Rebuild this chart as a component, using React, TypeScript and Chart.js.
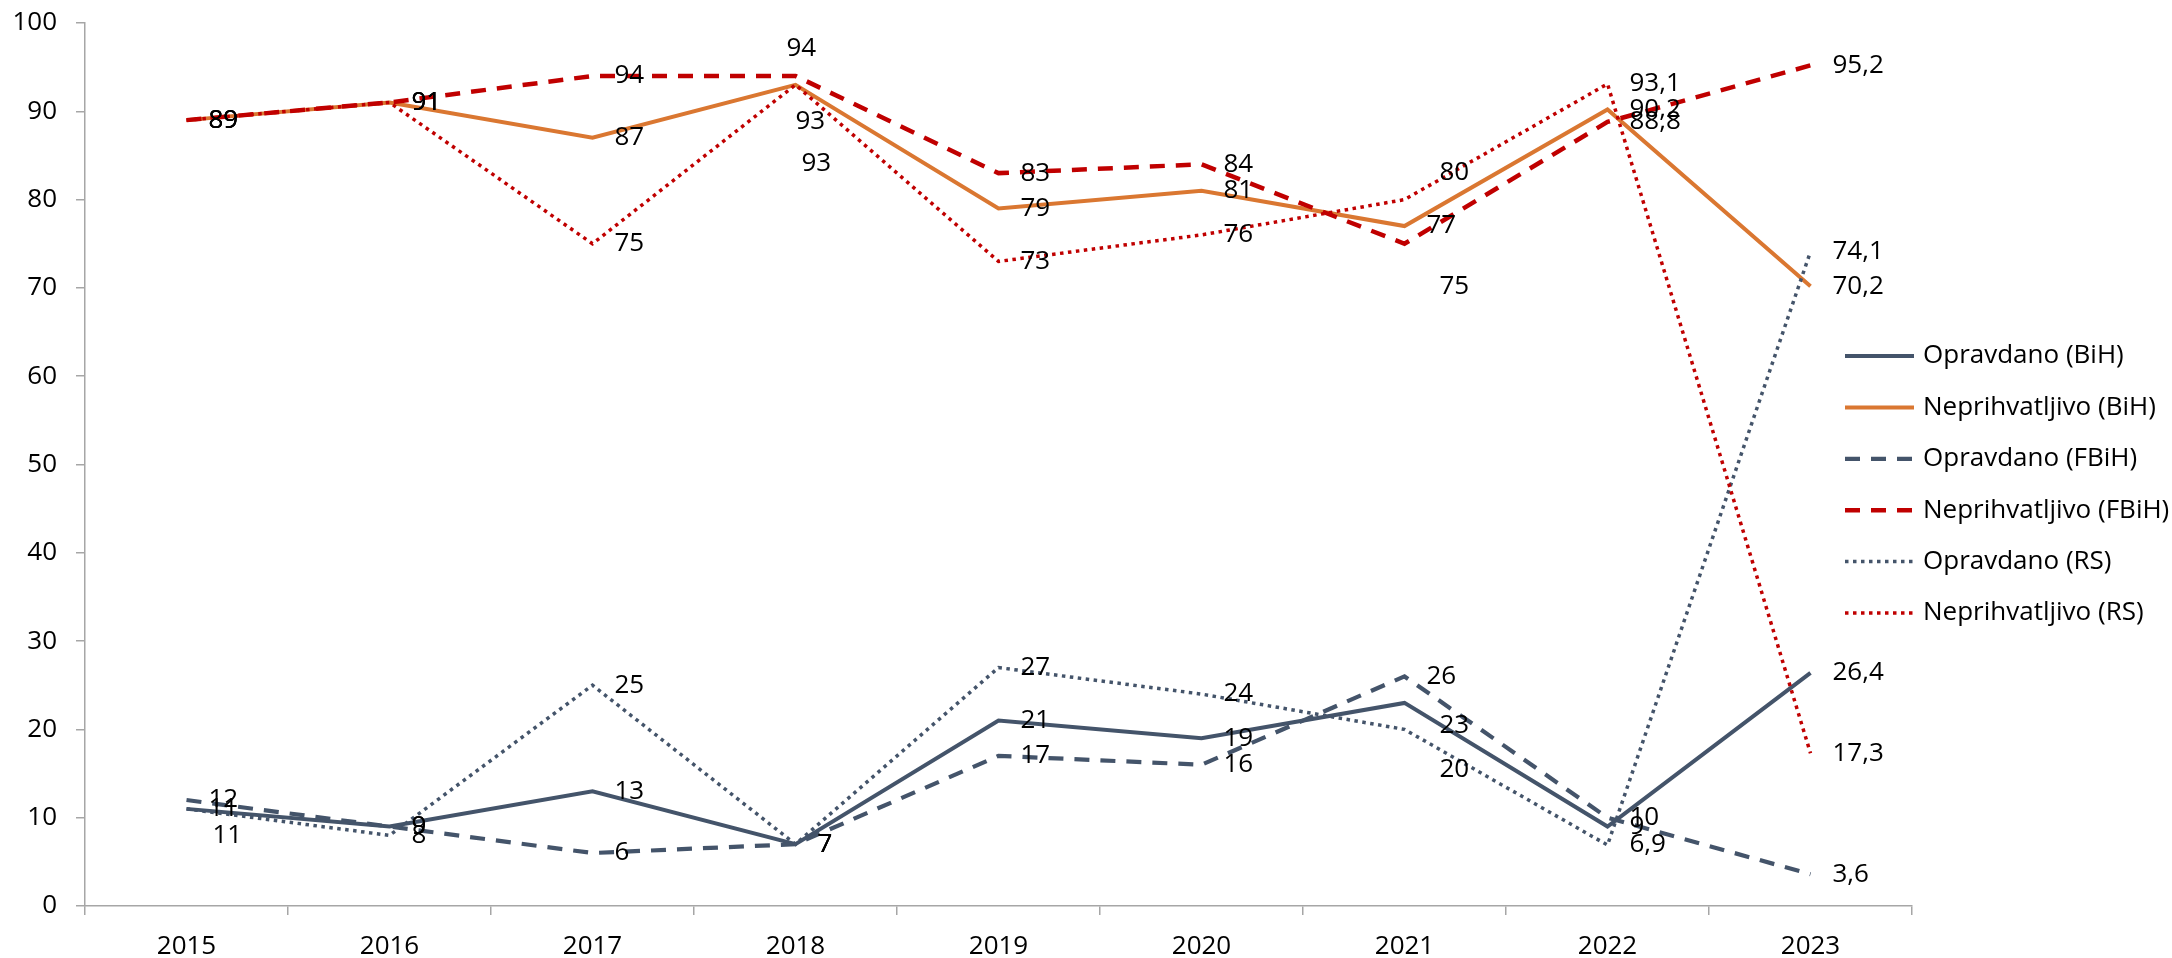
import React, { useEffect, useRef } from 'react';
import { Chart, registerables } from 'chart.js';

Chart.register(...registerables);

const years = ['2015', '2016', '2017', '2018', '2019', '2020', '2021', '2022', '2023'];
const opravdanoBiH = [11, 9, 13, 7, 21, 19, 23, 9, 26.4];
const neprihvatljivoBiH = [89, 91, 87, 93, 79, 81, 77, 90.2, 70.2];
const opravdanoFBiH = [12, 9, 6, 7, 17, 16, 26, 10, 3.6];
const neprihvatljivoFBiH = [89, 91, 94, 94, 83, 84, 75, 88.8, 95.2];
const opravdanoRS = [11, 8, 25, 7, 27, 24, 20, 6.9, 74.1];
const neprihvatljivoRS = [89, 91, 75, 93, 73, 76, 80, 93.1, 17.3];
const seriesNames = [
  'Opravdano (BiH)',
  'Neprihvatljivo (BiH)',
  'Opravdano (FBiH)',
  'Neprihvatljivo (FBiH)',
  'Opravdano (RS)',
  'Neprihvatljivo (RS)',
];
const yMin = 0;
const yMax = 100;
const yStep = 10;

const FONT = '"Open Sans", "Liberation Sans", sans-serif';
const FONT_SIZE = 26;
const GRAY = '#44546A';
const ORANGE = '#DA7731';
const RED = '#C00000';
const AXIS = '#A6A6A6';

const DASH = [15, 11];
const DOT = [3.5, 4.5];

// manual label nudges (datasetIndex:pointIndex), as in the reference
const labelNudges: Record<string, { dx: number; dy: number }> = {
  '4:0': { dx: 26, dy: 27 },
  '3:3': { dx: -9, dy: -27 },
  '1:3': { dx: 0, dy: 37 },
  '5:3': { dx: 6, dy: 79 },
  '5:6': { dx: 35, dy: -27 },
  '3:6': { dx: 35, dy: 43 },
  '0:6': { dx: 35, dy: 23 },
  '4:6': { dx: 35, dy: 40 },
};

const fmt = (v: number) => String(v).replace('.', ',');

const dataLabelPlugin = {
  id: 'dataLabelsCustom',
  afterDatasetsDraw(chart: any) {
    const ctx = chart.ctx;
    ctx.save();
    ctx.font = `${FONT_SIZE}px ${FONT}`;
    ctx.fillStyle = '#000';
    ctx.textBaseline = 'middle';
    ctx.textAlign = 'left';
    chart.data.datasets.forEach((ds: any, di: number) => {
      const meta = chart.getDatasetMeta(di);
      meta.data.forEach((pt: any, i: number) => {
        const n = labelNudges[`${di}:${i}`];
        const dx = n ? n.dx : 22;
        const dy = n ? n.dy : 0;
        ctx.fillText(fmt(ds.data[i]), pt.x + dx, pt.y + dy);
      });
    });
    ctx.restore();
  },
};

const legendPlugin = {
  id: 'legendCustom',
  afterDraw(chart: any) {
    const ctx = chart.ctx;
    const area = chart.chartArea;
    const x0 = area.right - 67;
    const lineLen = 69;
    const textX = x0 + 78;
    const rowH = 51.4;
    const startY = area.top + 333;
    ctx.save();
    ctx.font = `${FONT_SIZE}px ${FONT}`;
    ctx.textBaseline = 'middle';
    ctx.textAlign = 'left';
    chart.data.datasets.forEach((ds: any, i: number) => {
      const y = startY + i * rowH;
      ctx.beginPath();
      ctx.strokeStyle = ds.borderColor;
      ctx.lineWidth = ds.borderWidth;
      ctx.setLineDash(ds.borderDash || []);
      ctx.lineCap = 'butt';
      ctx.moveTo(x0, y);
      ctx.lineTo(x0 + lineLen, y);
      ctx.stroke();
      ctx.setLineDash([]);
      ctx.fillStyle = '#000';
      ctx.fillText(ds.label, textX, y);
    });
    ctx.restore();
  },
};

export default function App() {
  const ref = useRef<HTMLCanvasElement | null>(null);

  useEffect(() => {
    document.body.style.margin = '0';
    if (!ref.current) return;
    const values = [opravdanoBiH, neprihvatljivoBiH, opravdanoFBiH, neprihvatljivoFBiH, opravdanoRS, neprihvatljivoRS];
    const colors = [GRAY, ORANGE, GRAY, RED, GRAY, RED];
    const dashes = [[], [], DASH, DASH, DOT, DOT];
    const widths = [4, 4, 4.2, 4.5, 3.5, 3.5];
    const datasets = values.map((d, i) => ({
      label: seriesNames[i],
      data: d,
      borderColor: colors[i],
      backgroundColor: colors[i],
      borderWidth: widths[i],
      borderDash: dashes[i],
      pointRadius: 0,
      pointHoverRadius: 0,
      tension: 0,
      fill: false,
      order: 5 - i,
    }));
    const chart = new Chart(ref.current, {
      type: 'line',
      data: { labels: years, datasets },
      options: {
        animation: false,
        responsive: false,
        devicePixelRatio: 1,
        layout: { padding: { left: 0, right: 260, top: 23, bottom: 0 } },
        plugins: {
          legend: { display: false },
          tooltip: { enabled: false },
        },
        scales: {
          x: {
            offset: true,
            grid: {
              offset: true,
              drawOnChartArea: false,
              drawTicks: true,
              tickLength: 9,
              color: AXIS,
              lineWidth: 1.5,
            },
            border: { color: AXIS, width: 1.5 },
            ticks: {
              color: '#000',
              font: { family: FONT, size: FONT_SIZE },
              padding: 16,
              maxRotation: 0,
            },
            afterFit: (scale: any) => {
              scale.height = 52;
              scale.paddingLeft = 0;
              scale.paddingRight = 0;
            },
          },
          y: {
            min: yMin,
            max: yMax,
            grid: {
              drawOnChartArea: false,
              drawTicks: true,
              tickLength: 9,
              color: AXIS,
              lineWidth: 1.5,
            },
            border: { color: AXIS, width: 1.5 },
            ticks: {
              stepSize: yStep,
              color: '#000',
              font: { family: FONT, size: FONT_SIZE },
              padding: 19,
            },
            afterFit: (scale: any) => {
              scale.width = 85;
              scale.paddingTop = 0;
              scale.paddingBottom = 0;
            },
          },
        },
      },
      plugins: [dataLabelPlugin, legendPlugin],
    });
    return () => chart.destroy();
  }, []);

  return (
    <div style={{ width: 2172, height: 958 }}>
      <canvas ref={ref} width={2172} height={958} style={{ display: 'block' }} />
    </div>
  );
}
